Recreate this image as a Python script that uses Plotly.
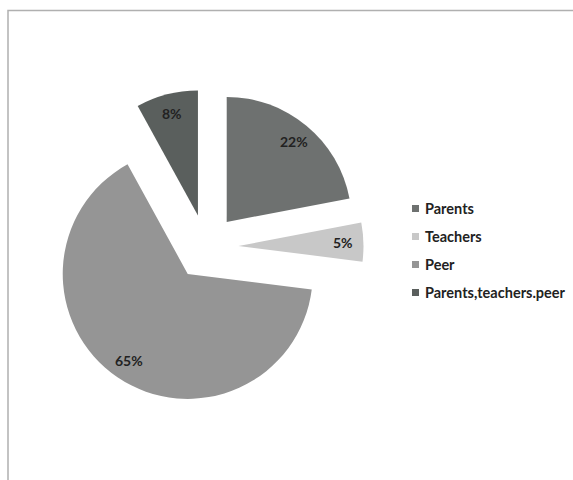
import math
import plotly.graph_objects as go

labels = ["Parents", "Teachers", "Peer", "Parents,teachers.peer"]
values = [22, 5, 65, 8]
colors = ["#6e7170", "#c8c8c8", "#959595", "#5a5f5d"]

W, H = 573, 480
pull = 0.26
# pie domain in pixels (centre ~ (206, 247), radius ~125)
cx, cy, r = 206, 247, 125
half = r * (1 + pull)

fig = go.Figure()
fig.add_trace(go.Pie(
    labels=labels,
    values=values,
    marker=dict(colors=colors, line=dict(width=0)),
    sort=False,
    direction="clockwise",
    rotation=0,
    pull=[pull] * len(values),
    textinfo="none",
    showlegend=False,
    hoverinfo="label+percent",
    domain=dict(x=[(cx - half) / W, (cx + half) / W],
                y=[1 - (cy + half) / H, 1 - (cy - half) / H]),
))

label_font = dict(family="Lato", size=14, color="#222222", weight="bold")
shapes = [dict(type="rect", xref="paper", yref="paper",
               x0=8 / W, x1=1.05, y0=-0.05, y1=1 - 10.5 / H,
               line=dict(color="#b0b0b0", width=1.5), fillcolor="rgba(0,0,0,0)")]
annotations = []

# percentage labels placed along each slice's mid-angle
total = sum(values)
cum = 0
for v in values:
    theta = 2 * math.pi * (cum + v / 2) / total
    cum += v
    dist = r * pull + 0.84 * r
    px = cx + dist * math.sin(theta)
    py = cy - dist * math.cos(theta)
    annotations.append(dict(text=f"{round(100 * v / total)}%", xref="paper", yref="paper",
                            x=px / W, y=1 - py / H, xanchor="center", yanchor="middle",
                            showarrow=False, font=label_font))

leg_x, leg_y0, leg_dy = 415.5, 208.5, 28
for i, (lab, col) in enumerate(zip(labels, colors)):
    y = leg_y0 + i * leg_dy
    shapes.append(dict(type="rect", xref="paper", yref="paper",
                       x0=(leg_x - 3.5) / W, x1=(leg_x + 3.5) / W,
                       y0=1 - (y + 3.5) / H, y1=1 - (y - 3.5) / H,
                       line=dict(width=0), fillcolor=col))
    annotations.append(dict(text=lab, xref="paper", yref="paper",
                            x=(leg_x + 7) / W, y=1 - y / H,
                            xanchor="left", yanchor="middle", showarrow=False,
                            font=dict(family="Lato", size=14.5, color="#222222", weight="bold")))

fig.update_layout(
    width=W, height=H,
    margin=dict(l=0, r=0, t=0, b=0),
    paper_bgcolor="white",
    plot_bgcolor="white",
    shapes=shapes,
    annotations=annotations,
)

fig.write_html("out.html")
